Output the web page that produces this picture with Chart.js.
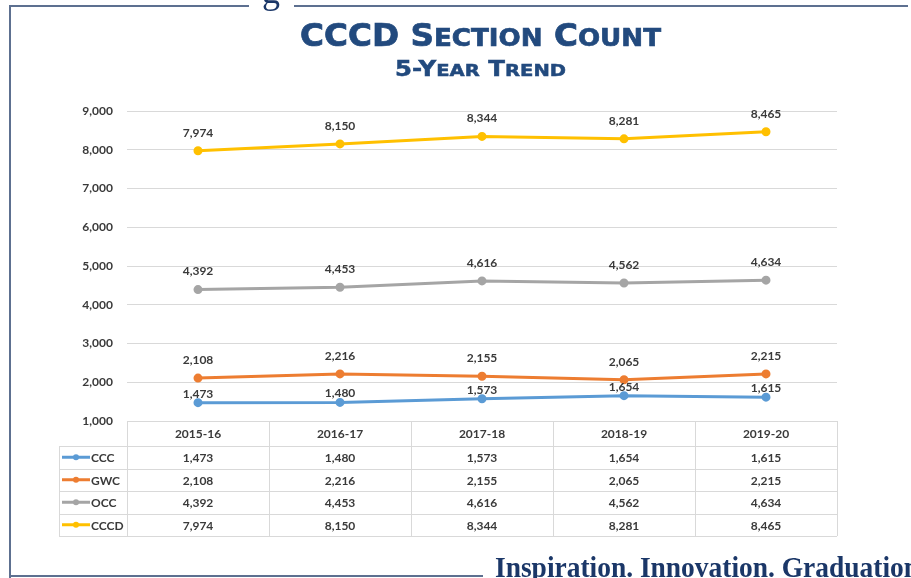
<!DOCTYPE html>
<html>
<head>
<meta charset="utf-8">
<script src="https://cdn.jsdelivr.net/npm/chart.js@4.4.1/dist/chart.umd.min.js"></script>
<style>
  html,body{margin:0;padding:0;background:#fff;}
  #wrap{position:relative;width:911px;height:578px;overflow:hidden;background:#fff;}
  canvas{position:absolute;left:0;top:0;}
  .frame{position:absolute;background:#5d7090;}
  .fit{position:absolute;display:inline-block;white-space:nowrap;line-height:1;transform-origin:0 0;}
  .hd{font-family:"DejaVu Sans","Liberation Sans",sans-serif;font-weight:bold;color:#224a7e;-webkit-text-stroke:0.7px #224a7e;}
  .sc{text-transform:uppercase;font-size:0.8em;}
  #title{left:300px;top:20px;font-size:31.5px;}
  #subtitle{left:395px;top:59px;font-size:20.5px;-webkit-text-stroke:0.5px #224a7e;}
  #motto{left:495px;top:552px;font-family:"Liberation Serif","Times New Roman",serif;font-weight:bold;color:#1b3768;font-size:30px;}
  #g{position:absolute;left:262px;top:-30px;font-family:"Liberation Serif",serif;color:#1b3768;font-size:36px;}
</style>
</head>
<body>
<div id="wrap">
  <canvas id="c" width="911" height="578"></canvas>
  <div class="frame" style="left:9px;top:5px;width:240px;height:2px;"></div>
  <div class="frame" style="left:294px;top:5px;width:614px;height:2px;"></div>
  <div class="frame" style="left:9px;top:5px;width:2px;height:573px;"></div>
  <div class="frame" style="left:9px;top:575px;width:474px;height:2px;"></div>
  <div id="g">g</div>
  <span id="title" class="fit hd" data-w="361">CCCD S<span class="sc">ection</span> C<span class="sc">ount</span></span>
  <span id="subtitle" class="fit hd" data-w="171">5-Y<span class="sc">ear</span> T<span class="sc">rend</span></span>
  <span id="motto" class="fit" data-w="424">Inspiration. Innovation. Graduation</span>
</div>
<script>
const categories = ['2015-16', '2016-17', '2017-18', '2018-19', '2019-20'];
const seriesNames = ['CCC', 'GWC', 'OCC', 'CCCD'];
const cccValues = [1473, 1480, 1573, 1654, 1615];
const gwcValues = [2108, 2216, 2155, 2065, 2215];
const occValues = [4392, 4453, 4616, 4562, 4634];
const cccdValues = [7974, 8150, 8344, 8281, 8465];
const yMin = 1000, yMax = 9000, yStep = 1000;

document.querySelectorAll('.fit').forEach(el => {
  const w = el.getBoundingClientRect().width;
  const target = parseFloat(el.dataset.w);
  if (w > 0) el.style.transform = 'scaleX(' + (target / w) + ')';
});

const seriesValues = [cccValues, gwcValues, occValues, cccdValues];
const seriesColors = ['#5b9bd5', '#ed7d31', '#a5a5a5', '#ffc000'];
const labelOffsets = [9, 18, 18, 18];
const fmt = v => v.toLocaleString('en-US');
const FONT = 'bold 12px Lato, "Liberation Sans", sans-serif';
const TXT = '#3a3a3a';

const labelsPlugin = {
  id: 'labelsAndTable',
  afterDatasetsDraw(chart) {
    const ctx = chart.ctx;
    ctx.save();
    ctx.font = FONT;
    ctx.fillStyle = TXT;
    ctx.textAlign = 'center';
    ctx.textBaseline = 'middle';
    chart.data.datasets.forEach((ds, di) => {
      const meta = chart.getDatasetMeta(di);
      meta.data.forEach((pt, i) => {
        ctx.fillText(fmt(ds.data[i]), pt.x, pt.y - labelOffsets[di]);
      });
    });
    ctx.restore();
  },
  afterDraw(chart) {
    const ctx = chart.ctx;
    const xs = chart.scales.x;
    const area = chart.chartArea;
    const colW = (area.right - area.left) / categories.length;
    const top = area.bottom;
    const hdrH = 25, rowH = 22.5;
    const legLeft = 59;
    const tableBottom = top + hdrH + rowH * seriesNames.length;
    ctx.save();
    ctx.strokeStyle = '#d9d9d9';
    ctx.lineWidth = 1;
    ctx.beginPath();
    ctx.moveTo(area.left, top + 0.5); ctx.lineTo(area.right, top + 0.5);
    for (let r = 0; r <= seriesNames.length; r++) {
      const y = Math.round(top + hdrH + r * rowH) + 0.5;
      ctx.moveTo(legLeft, y); ctx.lineTo(area.right, y);
    }
    for (let c = 0; c <= categories.length; c++) {
      const x = Math.round(area.left + c * colW) + 0.5;
      ctx.moveTo(x, top); ctx.lineTo(x, tableBottom);
    }
    ctx.moveTo(legLeft + 0.5, top + hdrH); ctx.lineTo(legLeft + 0.5, tableBottom);
    ctx.stroke();

    ctx.font = FONT;
    ctx.fillStyle = TXT;
    ctx.textBaseline = 'middle';
    ctx.textAlign = 'center';
    categories.forEach((c, i) => {
      ctx.fillText(c, xs.getPixelForValue(i), top + hdrH / 2 + 1);
    });
    seriesNames.forEach((name, r) => {
      const yc = top + hdrH + r * rowH + rowH / 2;
      ctx.textAlign = 'center';
      ctx.fillStyle = TXT;
      seriesValues[r].forEach((v, i) => {
        ctx.fillText(fmt(v), xs.getPixelForValue(i), yc + 1);
      });
      ctx.strokeStyle = seriesColors[r];
      ctx.lineWidth = 3;
      ctx.beginPath();
      ctx.moveTo(62, yc); ctx.lineTo(90, yc);
      ctx.stroke();
      ctx.fillStyle = seriesColors[r];
      ctx.beginPath();
      ctx.arc(76, yc, 3, 0, Math.PI * 2);
      ctx.fill();
      ctx.fillStyle = TXT;
      ctx.textAlign = 'left';
      ctx.fillText(name, 91, yc + 1);
    });
    ctx.restore();
  }
};

new Chart(document.getElementById('c'), {
  type: 'line',
  data: {
    labels: categories,
    datasets: seriesNames.map((n, i) => ({
      label: n,
      data: seriesValues[i],
      borderColor: seriesColors[i],
      backgroundColor: seriesColors[i],
      pointBackgroundColor: seriesColors[i],
      pointBorderColor: seriesColors[i],
      borderWidth: 3,
      pointRadius: 3,
      tension: 0,
      fill: false
    }))
  },
  options: {
    responsive: false,
    animation: false,
    layout: { padding: { left: 0, top: 111, right: 74, bottom: 157 } },
    plugins: { legend: { display: false }, tooltip: { enabled: false }, title: { display: false } },
    scales: {
      x: {
        type: 'category',
        offset: true,
        display: true,
        grid: { display: false, drawTicks: false },
        border: { display: false },
        ticks: { display: false }
      },
      y: {
        min: yMin, max: yMax,
        afterFit(scale) { scale.width = 127; },
        grid: { color: '#d9d9d9', drawTicks: false, lineWidth: 1 },
        border: { display: false },
        ticks: {
          stepSize: yStep,
          padding: 14,
          color: TXT,
          font: { family: 'Lato, "Liberation Sans", sans-serif', size: 12, weight: 'bold' },
          callback: v => fmt(v)
        }
      }
    }
  },
  plugins: [labelsPlugin]
});
</script>
</body>
</html>
